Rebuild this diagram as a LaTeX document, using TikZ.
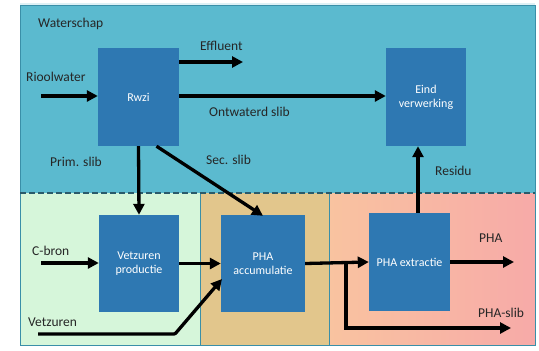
\documentclass[tikz,border=0pt]{standalone}
\usepackage{fontspec}
\setmainfont{Carlito}
\usetikzlibrary{arrows.meta}
\definecolor{wsblue}{HTML}{5BBACF}
\definecolor{boxblue}{HTML}{2E78B2}
\definecolor{greenbg}{HTML}{D6F6DA}
\definecolor{tanbg}{HTML}{E2C68C}
\definecolor{peach}{HTML}{F9C3A0}
\definecolor{pinkbg}{HTML}{F7AAA8}
\definecolor{edge}{HTML}{3A8FA8}
\definecolor{dashc}{HTML}{2A5A6A}
\begin{document}
\begin{tikzpicture}[x=1pt,y=-1pt,
  procbox/.style={fill=boxblue,draw=none,text=white,align=center,font=\fontsize{12}{14}\selectfont},
  flow/.style={line width=3.3pt,-{Triangle[length=11pt,width=11pt]}},
  lbl/.style={font=\fontsize{13.5}{15}\selectfont,text=black!85,inner sep=0pt}]
\useasboundingbox (0,0) rectangle (539,351);
\fill[white] (0,0) rectangle (539,351);
% regions
\fill[wsblue] (20,5) rectangle (535,193);
\fill[greenbg] (20,193) rectangle (200,345);
\fill[tanbg] (200,193) rectangle (329,345);
\shade[left color=peach,right color=pinkbg] (329,193) rectangle (535,345);
\draw[edge,line width=0.6pt] (20,5) rectangle (535,345);
\draw[edge,line width=0.6pt] (200,193) -- (200,345);
\draw[edge,line width=0.6pt] (329,193) -- (329,345);
\fill[white!80!wsblue] (20,3) rectangle (535,5);
\draw[dashc,dash pattern=on 6pt off 3pt,line width=1.2pt] (20,193) -- (535,193);
% boxes
\node[procbox,minimum width=81pt,minimum height=98pt] (rwzi) at (138.5,97) {Rwzi};
\node[procbox,minimum width=80pt,minimum height=98pt] (eind) at (426,97) {Eind\\verwerking};
\node[procbox,minimum width=80pt,minimum height=97pt] (vet) at (139,263.5) {Vetzuren\\productie};
\node[procbox,minimum width=84pt,minimum height=97pt] (acc) at (263,263.5) {PHA\\accumulatie};
\node[procbox,minimum width=81pt,minimum height=98pt] (extr) at (409.5,262) {PHA extractie};
% coordinates
\coordinate (riool) at (41,96);
\coordinate (effl) at (243,62);
\coordinate (cbron) at (41,263);
\coordinate (vz0) at (38,334);
\coordinate (vz1) at (175,334);
\coordinate (vz2) at (222,279);
\coordinate (pha) at (514,262);
\coordinate (br) at (346,263);
\coordinate (br1) at (346,328);
\coordinate (slib) at (511,328);
% labels
\node[lbl,anchor=west] (tws) at (38,24) {Waterschap};
\node[lbl,anchor=west] (triool) at (26,77) {Rioolwater};
\node[lbl,anchor=west] (teff) at (200,46) {Effluent};
\node[lbl,anchor=west] (tont) at (209,112) {Ontwaterd slib};
\node[lbl,anchor=west] (tprim) at (50,162) {Prim. slib};
\node[lbl,anchor=west] (tsec) at (206,160) {Sec. slib};
\node[lbl,anchor=west] (tres) at (435,171) {Residu};
\node[lbl,anchor=west] (tcb) at (32,251) {C-bron};
\node[lbl,anchor=west] (tvz) at (28,322) {Vetzuren};
\node[lbl,anchor=west] (tpha) at (479,238) {PHA};
\node[lbl,anchor=west] (tphas) at (478,313) {PHA-slib};
% connectors
\draw[flow] (riool) -- (rwzi.west |- riool);
\draw[flow] (rwzi.east |- effl) -- (effl);
\draw[flow] (rwzi.east |- riool) -- (eind.west |- riool);
\draw[flow] (rwzi.south) -- (vet.north);
\draw[flow] ([xshift=18pt]rwzi.south) -- ([yshift=-1pt]acc.north);
\draw[flow] (cbron) -- (vet.west |- cbron);
\draw[flow] (vet.east) -- (acc.west);
\draw[flow,rounded corners=1pt] (vz0) -- (vz1) -- (vz2);
\draw[flow] (acc.east) -- (extr.west);
\draw[flow] (extr.east) -- (pha);
\draw[flow] (br) -- (br1) -- (slib);
\draw[flow] ([xshift=8.5pt]extr.north) -- ([xshift=-8pt]eind.south);
\end{tikzpicture}
\end{document}
